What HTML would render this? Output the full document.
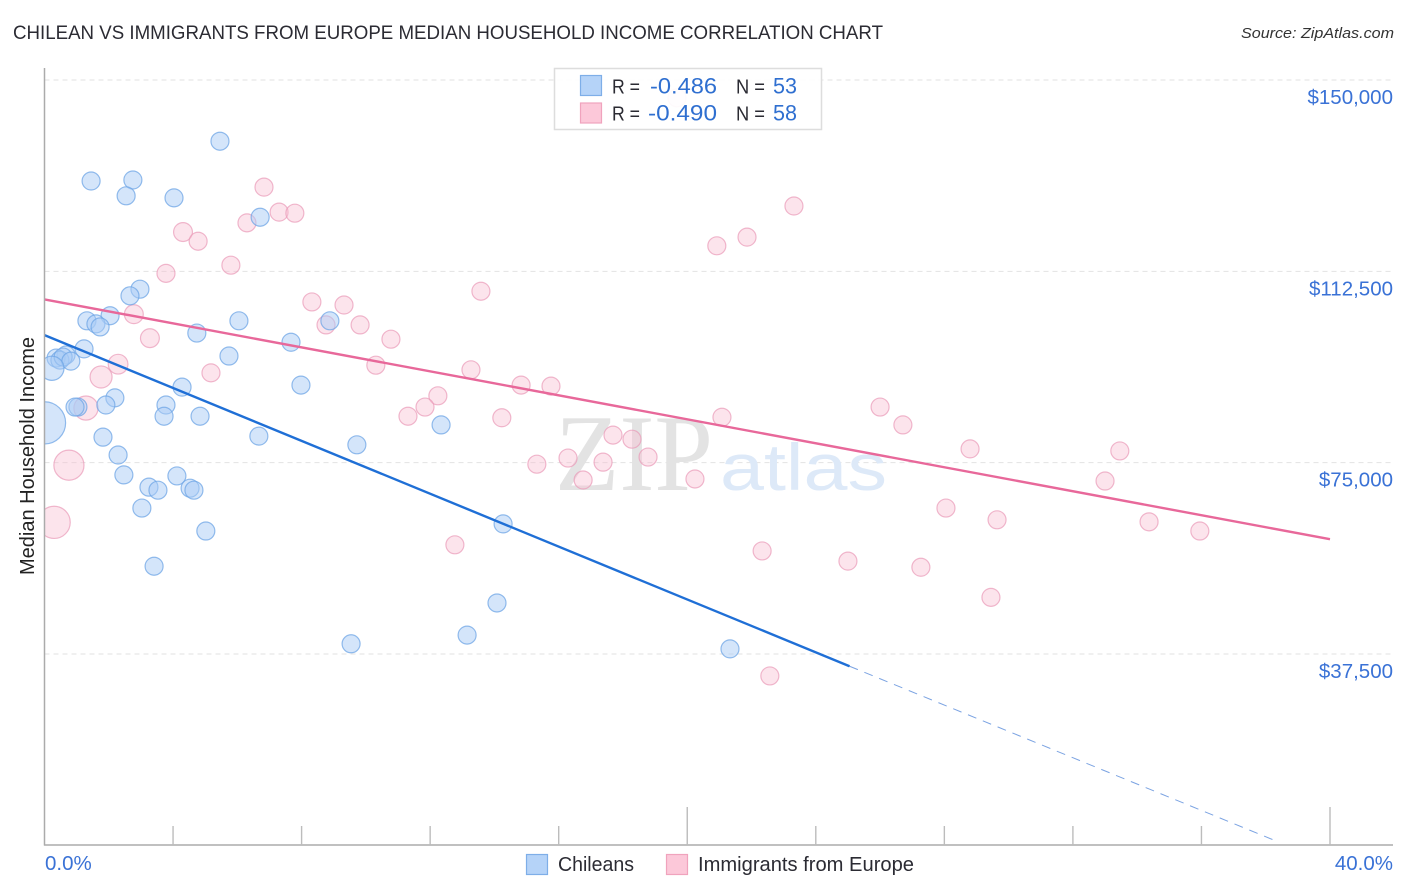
<!DOCTYPE html>
<html lang="en">
<head>
<meta charset="utf-8">
<title>Chilean vs Immigrants from Europe Median Household Income Correlation Chart</title>
<style>
html,body{margin:0;padding:0;background:#fff;}
svg{display:block;font-family:"Liberation Sans",sans-serif;}
</style>
</head>
<body>
<svg id="chart" xmlns="http://www.w3.org/2000/svg" width="1406" height="892" viewBox="0 0 1406 892">
  <defs>
    <clipPath id="plot-clip"><rect x="44.5" y="60" width="1350" height="786"/></clipPath>
  </defs>
  <rect width="1406" height="892" fill="#ffffff"/>
  <text x="13" y="39" font-size="19.5" fill="#2b2b33" textLength="870" lengthAdjust="spacingAndGlyphs">CHILEAN VS IMMIGRANTS FROM EUROPE MEDIAN HOUSEHOLD INCOME CORRELATION CHART</text>
  <text x="1394" y="38" font-size="15" font-style="italic" fill="#333" text-anchor="end" textLength="153" lengthAdjust="spacingAndGlyphs">Source: ZipAtlas.com</text>
  <g id="grid"></g>
  <g>
    <text x="555" y="490" font-family="'Liberation Serif',serif" font-size="109" fill="#e3e3e3" textLength="158" lengthAdjust="spacingAndGlyphs">ZIP</text>
    <text x="720" y="490" font-size="66" fill="#dde9f8" textLength="167" lengthAdjust="spacingAndGlyphs">atlas</text>
  </g>
  <g clip-path="url(#plot-clip)">
    <g id="pink-points"></g>
    <g id="blue-points"></g>
  </g>
  <g id="trends"></g>
  <g id="axes"></g>
  <text transform="translate(34,456) rotate(-90)" font-size="20" fill="#222" text-anchor="middle" textLength="238" lengthAdjust="spacingAndGlyphs">Median Household Income</text>

  <g>
    <rect x="554.5" y="68.5" width="267" height="61" fill="#ffffff" fill-opacity="0.92" stroke="#dddddd" stroke-width="1.5"/>
    <rect x="580.5" y="75.5" width="21" height="20" fill="#b5d3f8" stroke="#7eaee8" stroke-width="1.2"/>
    <rect x="580.5" y="103" width="21" height="20" fill="#fcc8d9" stroke="#f0a3bd" stroke-width="1.2"/>
    <text x="612" y="93.5" font-size="20" fill="#2b2b33" textLength="28" lengthAdjust="spacingAndGlyphs">R =</text>
    <text x="650" y="93.5" font-size="22" fill="#2f6fd0" textLength="67" lengthAdjust="spacingAndGlyphs">-0.486</text>
    <text x="736" y="93.5" font-size="20" fill="#2b2b33" textLength="29" lengthAdjust="spacingAndGlyphs">N =</text>
    <text x="773" y="93.5" font-size="22" fill="#2f6fd0" textLength="24" lengthAdjust="spacingAndGlyphs">53</text>
    <text x="612" y="120.5" font-size="20" fill="#2b2b33" textLength="28" lengthAdjust="spacingAndGlyphs">R =</text>
    <text x="648" y="120.5" font-size="22" fill="#2f6fd0" textLength="69" lengthAdjust="spacingAndGlyphs">-0.490</text>
    <text x="736" y="120.5" font-size="20" fill="#2b2b33" textLength="29" lengthAdjust="spacingAndGlyphs">N =</text>
    <text x="773" y="120.5" font-size="22" fill="#2f6fd0" textLength="24" lengthAdjust="spacingAndGlyphs">58</text>
  </g>

  <g>
    <rect x="526.5" y="854.5" width="21" height="20" fill="#b5d3f8" stroke="#7eaee8" stroke-width="1.2"/>
    <text x="558" y="871" font-size="20" fill="#2b2b33" textLength="76" lengthAdjust="spacingAndGlyphs">Chileans</text>
    <rect x="666.5" y="854.5" width="21" height="20" fill="#fcc8d9" stroke="#f0a3bd" stroke-width="1.2"/>
    <text x="698" y="871" font-size="20" fill="#2b2b33" textLength="216" lengthAdjust="spacingAndGlyphs">Immigrants from Europe</text>
  </g>
</svg>
<script>
const yTickValues = [150000, 112500, 75000, 37500];
const yTickLabels = ['$150,000', '$112,500', '$75,000', '$37,500'];
const xTickValues = [0, 4, 8, 12, 16, 20, 24, 28, 32, 36, 40];
const xTickLabels = ['0.0%', '40.0%'];

const chileanPct = [5.46,1.45,2.75,2.54,4.03,6.71,2.97,2.66,2.04,1.32,1.60,1.73,4.74,6.05,8.88,7.67,1.23,5.74,0.67,0.36,0.48,0.58,0.82,0.23,4.28,7.98,2.19,1.91,1.04,0.95,3.78,3.72,4.84,12.34,1.82,6.67,9.72,0,2.29,2.47,4.12,3.25,3.53,4.53,4.65,3.03,5.02,14.27,3.41,14.08,13.15,9.54,21.33];
const chileanIncome = [138000,130200,130400,127300,126900,123100,109000,107700,103800,102800,102200,101600,100400,102800,102800,98600,97300,95900,96100,95500,95100,95700,94900,93500,89800,90200,87700,86300,85900,85900,86300,84100,84100,82400,80000,80200,78500,82800,76500,72600,72400,70200,69600,70000,69600,66100,61600,63000,54700,47500,41200,39500,38500];
const chileanWeight = [1,1,1,1,1,1,1,1,1,1,1,1,1,1,1,1,1,1,1,1,1,1,1,1.8,1,1,1,1,1,1,1,1,1,1,1,1,1,5.5,1,1,1,1,1,1,1,1,1,1,1,1,1,1,1];

const immigrantPct = [19.68,6.83,6.30,7.30,7.79,4.31,4.78,5.80,3.78,8.32,9.32,2.78,8.76,9.82,3.28,10.78,2.29,1.76,5.18,10.31,13.27,14.83,15.76,12.24,1.29,11.84,11.31,14.23,0.76,0.30,21.08,26.0,26.71,13.58,23.32,21.86,20.92,17.69,18.28,16.29,18.78,17.38,15.32,16.76,20.24,28.8,33.46,33.0,28.05,29.64,34.37,35.95,12.77,22.33,25.0,27.27,29.45,22.57];
const immigrantIncome = [146500,129000,122000,124100,123900,120200,118400,113700,112100,106500,105900,104100,102000,102000,99400,99200,94300,91800,92600,94100,93200,90200,90000,88100,85700,85900,84100,83800,74500,63300,83900,85900,82400,108600,125300,119200,117500,80400,79600,75900,76100,75100,74700,71600,71800,77700,77300,71400,66100,63800,63400,61600,58900,57700,55700,54500,48600,33200];
const immigrantWeight = [1,1,1,1,1,1.1,1,1,1,1,1,1.1,1,1,1.1,1,1.2,1.5,1,1,1,1,1,1,1.8,1,1,1,2.8,3.2,1,1,1,1,1,1,1,1,1,1,1,1,1,1,1,1,1,1,1,1,1,1,1,1,1,1,1,1];

const chileanTrendPct = [0, 25.05];
const chileanTrendIncome = [100000, 35100];
const chileanForecastPct = [25.05, 38.4];
const chileanForecastIncome = [35100, 650];
const immigrantTrendPct = [0, 40];
const immigrantTrendIncome = [107000, 60000];

const NS = 'http://www.w3.org/2000/svg';
function xScale(v) { return 44.5 + v * (1330 - 44.5) / 40; }
function yScale(v) { return 80 + (150000 - v) * 191.33 / 37500; }
function make(tag, attrs, parent) {
  const el = document.createElementNS(NS, tag);
  Object.keys(attrs).forEach(function (k) { el.setAttribute(k, attrs[k]); });
  parent.appendChild(el);
  return el;
}

const gridG = document.getElementById('grid');
const axesG = document.getElementById('axes');
const blueG = document.getElementById('blue-points');
const pinkG = document.getElementById('pink-points');
const trendG = document.getElementById('trends');

yTickValues.forEach(function (v, i) {
  const line = make('line', { x1: 44.5, x2: 1393, y1: yScale(v), y2: yScale(v), stroke: '#e2e2e2', 'stroke-width': 1, 'stroke-dasharray': '5 4' }, gridG);
  
  
  const label = make('text', { x: 1393, y: yScale(v) + 24, 'font-size': 20.5, fill: '#3a72d6', 'text-anchor': 'end' }, axesG);
  label.textContent = yTickLabels[i];
  
  
});

const yAxis = make('line', { x1: 44.5, x2: 44.5, y1: 68, y2: 845.5, stroke: '#ababab', 'stroke-width': 1.5 }, axesG);


const xAxis = make('line', { x1: 44, x2: 1393, y1: 845, y2: 845, stroke: '#ababab', 'stroke-width': 1.5 }, axesG);



xTickValues.forEach(function (v) {
  if (v === 0) return;
  const top = v % 20 === 0 ? 807 : 826;
  const tick = make('line', { x1: xScale(v), x2: xScale(v), y1: top, y2: 845, stroke: '#bcbcbc', 'stroke-width': 1.4 }, axesG);
  
  
});

const xLabelLeft = make('text', { x: 45, y: 870, 'font-size': 20.5, fill: '#3a72d6' }, axesG);
xLabelLeft.textContent = xTickLabels[0];


const xLabelRight = make('text', { x: 1393, y: 870, 'font-size': 20.5, fill: '#3a72d6', 'text-anchor': 'end' }, axesG);
xLabelRight.textContent = xTickLabels[1];



immigrantPct.forEach(function (v, i) {
  const c = make('circle', { cx: xScale(v), cy: yScale(immigrantIncome[i]), r: 9 * Math.sqrt(immigrantWeight[i]), fill: '#f9bfd2', 'fill-opacity': 0.42, stroke: '#ea9ab8', 'stroke-opacity': 0.7, 'stroke-width': 1.2 }, pinkG);
  
  
});

chileanPct.forEach(function (v, i) {
  const c = make('circle', { cx: xScale(v), cy: yScale(chileanIncome[i]), r: 9 * Math.sqrt(chileanWeight[i]), fill: '#a9cbf5', 'fill-opacity': 0.5, stroke: '#6fa5e5', 'stroke-opacity': 0.75, 'stroke-width': 1.2 }, blueG);
  
  
});

const blueTrend = make('line', { x1: xScale(chileanTrendPct[0]), y1: yScale(chileanTrendIncome[0]), x2: xScale(chileanTrendPct[1]), y2: yScale(chileanTrendIncome[1]), stroke: '#1f6fd6', 'stroke-width': 2.4 }, trendG);


const blueForecast = make('line', { x1: xScale(chileanForecastPct[0]), y1: yScale(chileanForecastIncome[0]), x2: xScale(chileanForecastPct[1]), y2: yScale(chileanForecastIncome[1]), stroke: '#7ba3e2', 'stroke-width': 1, 'stroke-dasharray': '9 7' }, trendG);


const pinkTrend = make('line', { x1: xScale(immigrantTrendPct[0]), y1: yScale(immigrantTrendIncome[0]), x2: xScale(immigrantTrendPct[1]), y2: yScale(immigrantTrendIncome[1]), stroke: '#e8689a', 'stroke-width': 2.4 }, trendG);


</script>
</body>
</html>
